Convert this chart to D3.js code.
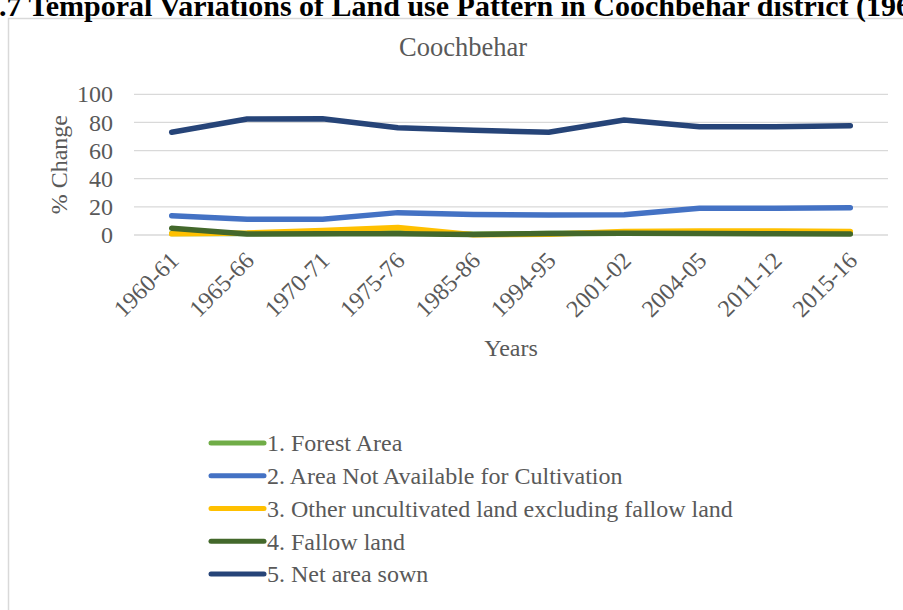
<!DOCTYPE html>
<html>
<head>
<meta charset="utf-8">
<script src="https://cdn.jsdelivr.net/npm/d3@7"></script>
<style>
  html, body { margin: 0; padding: 0; background: #fff; overflow: hidden; }
  svg { display: block; font-family: "Liberation Serif", "Times New Roman", serif; }
</style>
</head>
<body>
<svg id="chart" width="903" height="610"></svg>
<script>
// Land use shares (% of reporting area), Coochbehar district
const years = ["1960-61", "1965-66", "1970-71", "1975-76", "1985-86",
               "1994-95", "2001-02", "2004-05", "2011-12", "2015-16"];
const forestArea      = [1.0, 1.0, 1.1, 1.8, 0.6, 1.0, 1.3, 1.2, 1.2, 1.2];
const notAvailable    = [13.7, 11.2, 11.2, 15.9, 14.5, 14.2, 14.4, 19.0, 19.0, 19.4];
const otherUncult     = [0.8, 1.4, 3.2, 5.3, 0.2, 0.6, 2.4, 2.8, 2.8, 2.4];
const fallowLand      = [4.8, 0.7, 0.9, 0.9, 0.3, 1.0, 1.3, 1.0, 0.8, 0.7];
const netAreaSown     = [73.0, 82.4, 82.6, 76.3, 74.4, 73.0, 81.7, 77.0, 77.0, 77.6];
const yTicks = [0, 20, 40, 60, 80, 100];

const seriesNames = ["1. Forest Area", "2. Area Not Available for Cultivation",
  "3. Other uncultivated land excluding fallow land", "4. Fallow land", "5. Net area sown"];
const seriesColors = ["#70AD47", "#4472C4", "#FFC000", "#43682B", "#264478"];
const seriesValues = [forestArea, notAvailable, otherUncult, fallowLand, netAreaSown];

const series = seriesNames.map((name, i) => ({ name, color: seriesColors[i], values: seriesValues[i] }));

const svg = d3.select("#chart");
const textColor = "#595959";

// Chart frame
svg.append("rect")
  .attr("x", 8.5).attr("y", 18.5).attr("width", 1000).attr("height", 700)
  .attr("fill", "#fff").attr("stroke", "#d9d9d9").attr("stroke-width", 1.5);

// Document caption above the chart frame
svg.append("text")
  .attr("x", -1).attr("y", 16)
  .attr("font-size", 30).attr("font-weight", "bold").attr("fill", "#000")
  .text(".7 Temporal Variations of Land use Pattern in Coochbehar district (196");

// Chart title
svg.append("text")
  .attr("x", 463).attr("y", 56).attr("text-anchor", "middle")
  .attr("font-size", 26.5).attr("fill", textColor)
  .text("Coochbehar");

const plot = { left: 134, right: 888, top: 94.3, bottom: 235 };

const x = d3.scalePoint().domain(years)
  .range([plot.left, plot.right]).padding(0.5);
const y = d3.scaleLinear().domain([0, 100]).range([plot.bottom, plot.top]);

// Horizontal gridlines
svg.append("g")
  .selectAll("line").data(yTicks).join("line")
  .attr("x1", plot.left).attr("x2", plot.right)
  .attr("y1", d => y(d)).attr("y2", d => y(d))
  .attr("stroke", "#d9d9d9").attr("stroke-width", 1.3);

// Y axis labels
const yAxis = svg.append("g")
  .attr("transform", `translate(${plot.left - 21},0)`)
  .call(d3.axisLeft(y).tickValues(yTicks).tickSize(0).tickPadding(0));
yAxis.select(".domain").remove();
yAxis.selectAll("text")
  .attr("font-size", 24).attr("fill", textColor)
  .attr("font-family", "Liberation Serif, serif");

// X axis labels, rotated
const xAxis = svg.append("g")
  .attr("transform", `translate(0,${plot.bottom})`)
  .call(d3.axisBottom(x).tickSize(0).tickPadding(0));
xAxis.select(".domain").remove();
xAxis.selectAll("text")
  .attr("font-size", 24).attr("fill", textColor)
  .attr("font-family", "Liberation Serif, serif")
  .attr("text-anchor", "end")
  .attr("dy", "0.35em")
  .attr("transform", "translate(2,21) rotate(-45)");

// Axis titles
svg.append("text")
  .attr("transform", `translate(67,${(plot.top + plot.bottom) / 2}) rotate(-90)`)
  .attr("text-anchor", "middle")
  .attr("font-size", 24).attr("fill", textColor)
  .text("% Change");

svg.append("text")
  .attr("x", 511).attr("y", 356).attr("text-anchor", "middle")
  .attr("font-size", 24).attr("fill", textColor)
  .text("Years");

// Series lines
const line = d3.line()
  .x((d, i) => x(years[i]))
  .y(d => y(d));

svg.append("g")
  .selectAll("path").data(series).join("path")
  .attr("d", d => line(d.values))
  .attr("fill", "none")
  .attr("stroke", d => d.color)
  .attr("stroke-width", 5.5)
  .attr("stroke-linecap", "round")
  .attr("stroke-linejoin", "round");

// Legend
const legend = svg.append("g");
const rowY = d3.scaleLinear().domain([0, 4]).range([443, 574]);
const item = legend.selectAll("g").data(series).join("g")
  .attr("transform", (d, i) => `translate(0,${rowY(i)})`);
item.append("line")
  .attr("x1", 211).attr("x2", 264)
  .attr("stroke", d => d.color)
  .attr("stroke-width", 5)
  .attr("stroke-linecap", "round");
item.append("text")
  .attr("x", 267).attr("dy", "0.35em")
  .attr("font-size", 24).attr("fill", textColor)
  .text(d => d.name);
</script>
</body>
</html>
